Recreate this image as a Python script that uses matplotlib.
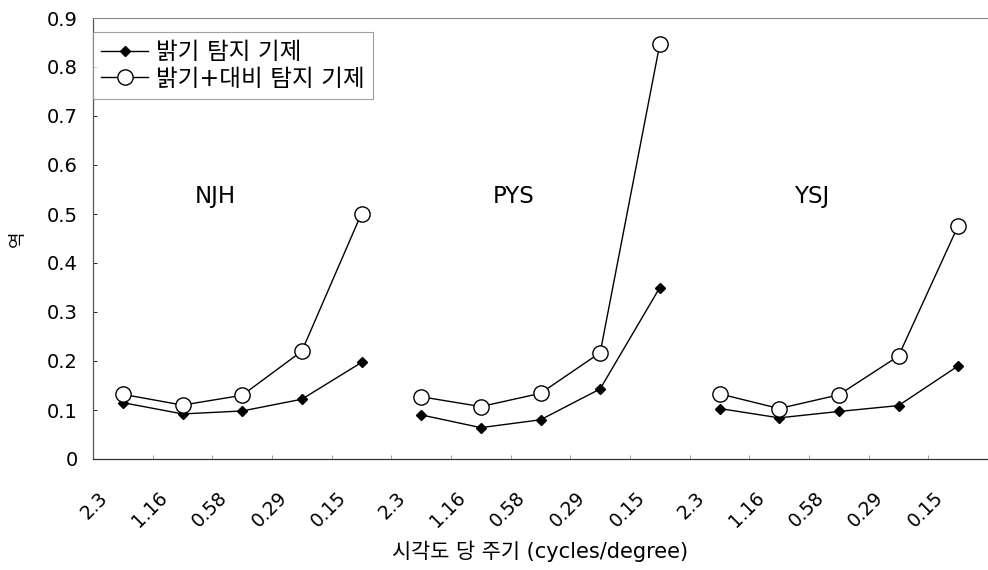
import numpy as np
import matplotlib
matplotlib.use("Agg")
from matplotlib import pyplot as plt
from matplotlib.transforms import ScaledTranslation

plt.rcParams['font.family'] = ['DejaVu Sans', 'Noto Sans CJK KR']

subjects = ['NJH', 'PYS', 'YSJ']
freq_labels = ['2.3', '1.16', '0.58', '0.29', '0.15']

# 밝기 탐지 기제 (filled diamonds)
lum = {
    'NJH': [0.115, 0.092, 0.098, 0.122, 0.197],
    'PYS': [0.090, 0.064, 0.080, 0.143, 0.350],
    'YSJ': [0.103, 0.084, 0.097, 0.109, 0.190],
}
# 밝기+대비 탐지 기제 (open circles)
lumcon = {
    'NJH': [0.132, 0.110, 0.130, 0.220, 0.501],
    'PYS': [0.127, 0.107, 0.134, 0.217, 0.847],
    'YSJ': [0.133, 0.103, 0.131, 0.210, 0.476],
}

fig = plt.figure(figsize=(9.88, 5.70), dpi=100)
ax = fig.add_axes([93/988, 1-459/570, (988-93)/988, (459-18)/570])

n = len(freq_labels)
for k, s in enumerate(subjects):
    xs = np.arange(n) + k*n
    ax.plot(xs, lum[s], c='black', lw=1.0, marker='D', ms=5.5,
            mfc='black', mec='black', label='밝기 탐지 기제' if k == 0 else None)
    ax.plot(xs, lumcon[s], c='black', lw=1.0, marker='o', ms=11,
            mfc='white', mec='black', mew=1.0, label='밝기+대비 탐지 기제' if k == 0 else None)
    ax.text(k*n + 1.55, 0.535, s, fontsize=16.5, ha='center', va='center')

ax.set_xlim(-0.5, 14.41)
ax.set_ylim(0, 0.9)
ax.set_yticks(np.arange(0, 0.91, 0.1))
ax.set_yticklabels(['0'] + ['%.1f' % v for v in np.arange(0.1, 0.91, 0.1)], fontsize=14)
ax.tick_params(axis='y', direction='in', length=3, width=0.6, pad=11, colors='black')

ax.set_xticks(np.arange(3*n))
ax.set_xticklabels(freq_labels*3, rotation=45, ha='right', va='center',
                   rotation_mode='anchor', fontsize=13.5)
ax.tick_params(axis='x', length=0, pad=26)
for lab in ax.get_xticklabels():
    lab.set_transform(lab.get_transform() + ScaledTranslation(-0.18, 0, fig.dpi_scale_trans))
ax.set_xticks(np.arange(3*n) + 0.5, minor=True)
ax.tick_params(axis='x', which='minor', direction='in', length=3, width=0.5, colors='#777777')

ax.spines['right'].set_visible(False)
ax.spines['top'].set_color('#888888')
ax.spines['top'].set_linestyle((0, (2, 1)))
ax.spines['top'].set_linewidth(0.8)
ax.spines['left'].set_color('#555555')
ax.spines['left'].set_linewidth(0.9)
ax.spines['bottom'].set_color('#333333')
ax.spines['bottom'].set_linewidth(0.9)

ax.set_xlabel('시각도 당 주기 (cycles/degree)', fontsize=15)
ax.xaxis.set_label_coords((540-93)/895, -(541-459)/441)
ax.set_ylabel('역', fontsize=13)
ax.yaxis.set_label_coords(-(93-27)/895, 0.5)

leg = ax.legend(loc='upper left', bbox_to_anchor=(0, 1 - 14/441), borderaxespad=0,
                fontsize=17, handlelength=2.0, handletextpad=0.3, fancybox=False,
                frameon=True, edgecolor='#888888', borderpad=0.35, labelspacing=0.1)
leg.get_frame().set_linewidth(0.8)

plt.savefig('out.png', dpi=100)
plt.close()
